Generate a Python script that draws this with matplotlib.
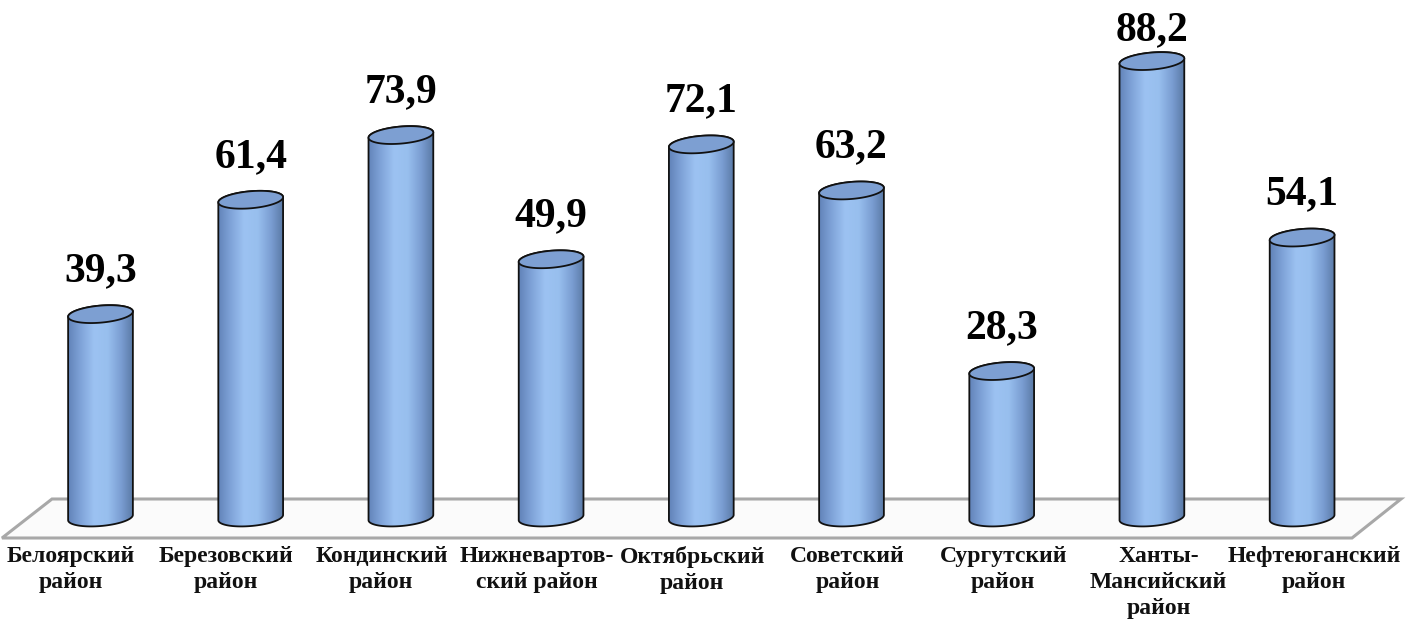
import numpy as np
import matplotlib.pyplot as plt
from matplotlib.path import Path
from matplotlib.patches import PathPatch, Polygon
from matplotlib.colors import LinearSegmentedColormap

districts = [
    "Белоярский\nрайон",
    "Березовский\nрайон",
    "Кондинский\nрайон",
    "Нижневартов-\nский район",
    "Октябрьский\nрайон",
    "Советский\nрайон",
    "Сургутский\nрайон",
    "Ханты-\nМансийский\nрайон",
    "Нефтеюганский\nрайон",
]
values = [39.3, 61.4, 73.9, 49.9, 72.1, 63.2, 28.3, 88.2, 54.1]
value_labels = ["39,3", "61,4", "73,9", "49,9", "72,1", "63,2", "28,3", "88,2", "54,1"]

W, H, DPI = 1406, 627, 100
fig = plt.figure(figsize=(W / DPI, H / DPI), dpi=DPI)
ax = fig.add_axes([0, 0, 1, 1])
ax.set_axis_off()

# pixel scale of the axes (px per data unit)
px_x = 150.2
px_y = 5.175
base = 517.5
x0 = -100.5 / px_x
ax.set_xlim(x0, x0 + W / px_x)
ax.set_ylim(-(H - base) / px_y, base / px_y)

serif = ["Liberation Serif", "DejaVu Serif"]

# floor plane
fx = [x0 + 2 / px_x, x0 + 52 / px_x, x0 + 1401 / px_x, x0 + 1352 / px_x]
fy = [-20.5 / px_y, 18.5 / px_y, 18.5 / px_y, -20.5 / px_y]
ax.add_patch(Polygon(list(zip(fx, fy)), closed=True, facecolor="#fbfbfb",
                     edgecolor="#a8a8a8", lw=2.2, zorder=1))

cmap = LinearSegmentedColormap.from_list(
    "cyl", ["#5f80b6", "#7fa3d8", "#9cc2f2", "#98bfee", "#7a9dd2", "#55759f"])
grad = np.linspace(0, 1, 256).reshape(1, -1)

bw = 64 / px_x          # bar width in data units
eh = 18 / px_y          # ellipse height in data units
tilt = np.deg2rad(5)    # slight tilt of the ellipses (pixel space)


def ellipse_pts(cx, cy, t):
    ex = 32.5 * np.cos(t)
    ey = 8.5 * np.sin(t)
    rx = ex * np.cos(tilt) - ey * np.sin(tilt)
    ry = ex * np.sin(tilt) + ey * np.cos(tilt)
    return cx + rx / px_x, cy + ry / px_y


# category labels are spread along the front edge of the floor
label_x = np.linspace(-0.2, 8.08, len(districts))

for i, v in enumerate(values):
    # body: front half of bottom ellipse, then top half back to start
    tb = np.linspace(np.pi, 2 * np.pi, 60)
    bx, by = ellipse_pts(i, 0, tb)
    tt = np.linspace(0, np.pi, 60)
    tx, ty = ellipse_pts(i, v, tt)
    verts = list(zip(bx, by)) + list(zip(tx, ty)) + [(bx[0], by[0])]
    codes = [Path.MOVETO] + [Path.LINETO] * (len(verts) - 2) + [Path.CLOSEPOLY]
    body = PathPatch(Path(verts, codes), facecolor="none", edgecolor="#111111",
                     lw=1.3, zorder=4)
    ax.add_patch(body)
    im = ax.imshow(grad, cmap=cmap, aspect="auto", zorder=3,
                   extent=[i - bw / 2 - 0.01, i + bw / 2 + 0.01, -eh, v + eh])
    im.set_clip_path(body)

    # top cap
    ta = np.linspace(0, 2 * np.pi, 100)
    cx, cy = ellipse_pts(i, v, ta)
    ax.add_patch(Polygon(list(zip(cx, cy)), closed=True, facecolor="#7d9fd2",
                         edgecolor="#111111", lw=1.3, zorder=5))

    # value label above the cap, kept inside the figure
    top_px = (base - v * px_y)
    dy_px = min(43, top_px - 30)
    ax.annotate(value_labels[i], (i, v), xytext=(0, dy_px * 72 / DPI),
                textcoords="offset points",
                ha="center", va="center", fontsize=30, fontweight="bold",
                family=serif, color="black", zorder=6)

    ax.annotate(districts[i], (label_x[i], 0), xytext=(0, -20.5),
                textcoords="offset points",
                ha="center", va="top", fontsize=17, fontweight="bold",
                family=serif, color="#111111", linespacing=1.3, zorder=6)

plt.savefig("out.png", dpi=DPI)
plt.close()
